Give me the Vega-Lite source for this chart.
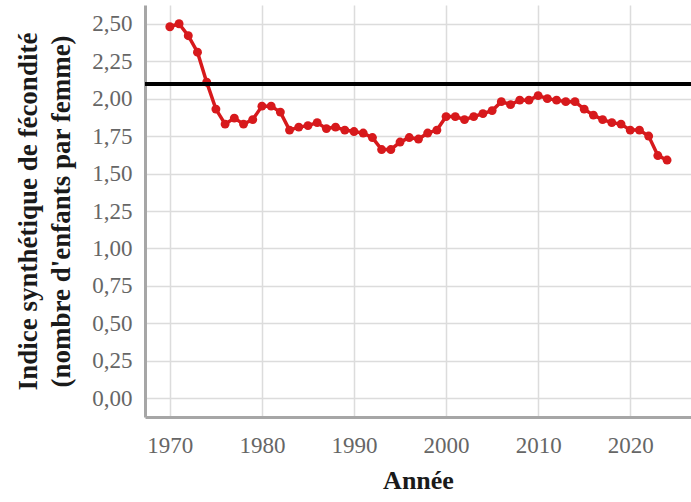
{
  "$schema": "https://vega.github.io/schema/vega-lite/v6.json",
  "width": 546,
  "height": 412,
  "autosize": {"type": "none"},
  "padding": {"left": 145, "top": 5, "right": 0, "bottom": 85},
  "background": "white",
  "config": {"view": {"stroke": null}, "font": "Liberation Serif"},
  "data": {"values": [
    {"annee": 1970, "isf": 2.48}, {"annee": 1971, "isf": 2.50}, {"annee": 1972, "isf": 2.42},
    {"annee": 1973, "isf": 2.31}, {"annee": 1974, "isf": 2.11}, {"annee": 1975, "isf": 1.93},
    {"annee": 1976, "isf": 1.83}, {"annee": 1977, "isf": 1.87}, {"annee": 1978, "isf": 1.83},
    {"annee": 1979, "isf": 1.86}, {"annee": 1980, "isf": 1.95}, {"annee": 1981, "isf": 1.95},
    {"annee": 1982, "isf": 1.91}, {"annee": 1983, "isf": 1.79}, {"annee": 1984, "isf": 1.81},
    {"annee": 1985, "isf": 1.82}, {"annee": 1986, "isf": 1.84}, {"annee": 1987, "isf": 1.80},
    {"annee": 1988, "isf": 1.81}, {"annee": 1989, "isf": 1.79}, {"annee": 1990, "isf": 1.78},
    {"annee": 1991, "isf": 1.77}, {"annee": 1992, "isf": 1.74}, {"annee": 1993, "isf": 1.66},
    {"annee": 1994, "isf": 1.66}, {"annee": 1995, "isf": 1.71}, {"annee": 1996, "isf": 1.74},
    {"annee": 1997, "isf": 1.73}, {"annee": 1998, "isf": 1.77}, {"annee": 1999, "isf": 1.79},
    {"annee": 2000, "isf": 1.88}, {"annee": 2001, "isf": 1.88}, {"annee": 2002, "isf": 1.86},
    {"annee": 2003, "isf": 1.88}, {"annee": 2004, "isf": 1.90}, {"annee": 2005, "isf": 1.92},
    {"annee": 2006, "isf": 1.98}, {"annee": 2007, "isf": 1.96}, {"annee": 2008, "isf": 1.99},
    {"annee": 2009, "isf": 1.99}, {"annee": 2010, "isf": 2.02}, {"annee": 2011, "isf": 2.00},
    {"annee": 2012, "isf": 1.99}, {"annee": 2013, "isf": 1.98}, {"annee": 2014, "isf": 1.98},
    {"annee": 2015, "isf": 1.93}, {"annee": 2016, "isf": 1.89}, {"annee": 2017, "isf": 1.86},
    {"annee": 2018, "isf": 1.84}, {"annee": 2019, "isf": 1.83}, {"annee": 2020, "isf": 1.79},
    {"annee": 2021, "isf": 1.79}, {"annee": 2022, "isf": 1.75}, {"annee": 2023, "isf": 1.62},
    {"annee": 2024, "isf": 1.59}
  ]},
  "layer": [
    {
      "mark": {"type": "line", "color": "#d7191c", "strokeWidth": 3.5,
               "point": {"filled": true, "size": 80, "color": "#d7191c", "opacity": 1}},
      "encoding": {
        "x": {"field": "annee", "type": "quantitative",
              "scale": {"domain": [1967.3, 2026.6], "nice": false, "zero": false},
              "axis": {"title": "Année", "values": [1970, 1980, 1990, 2000, 2010, 2020], "format": "d",
                       "labelFont": "Liberation Serif", "labelFontSize": 23, "labelColor": "#666666",
                       "labelPadding": 17, "ticks": false,
                       "domainColor": "#a6a6a6", "domainWidth": 3,
                       "gridColor": "#dcdcdc", "gridWidth": 1.5,
                       "titleFont": "Liberation Serif", "titleFontSize": 26, "titleFontWeight": "bold",
                       "titleColor": "#1a1a1a", "titlePadding": 10}},
        "y": {"field": "isf", "type": "quantitative",
              "scale": {"domain": [-0.125, 2.625], "nice": false, "zero": false},
              "axis": {"title": ["Indice synthétique de fécondité", "(nombre d'enfants par femme)"],
                       "values": [0, 0.25, 0.5, 0.75, 1, 1.25, 1.5, 1.75, 2, 2.25, 2.5],
                       "labelExpr": "replace(format(datum.value, '.2f'), '.', ',')",
                       "labelFont": "Liberation Serif", "labelFontSize": 23, "labelColor": "#666666",
                       "labelPadding": 13, "ticks": false,
                       "domainColor": "#a6a6a6", "domainWidth": 3,
                       "gridColor": "#dcdcdc", "gridWidth": 1.5,
                       "titleFont": "Liberation Serif", "titleFontSize": 27, "titleFontWeight": "bold",
                       "titleColor": "#1a1a1a", "titleLineHeight": 33, "titlePadding": 16}}
      }
    },
    {
      "mark": {"type": "rule", "color": "#000000", "strokeWidth": 3},
      "encoding": {"y": {"datum": 2.1, "type": "quantitative"}}
    }
  ]
}
